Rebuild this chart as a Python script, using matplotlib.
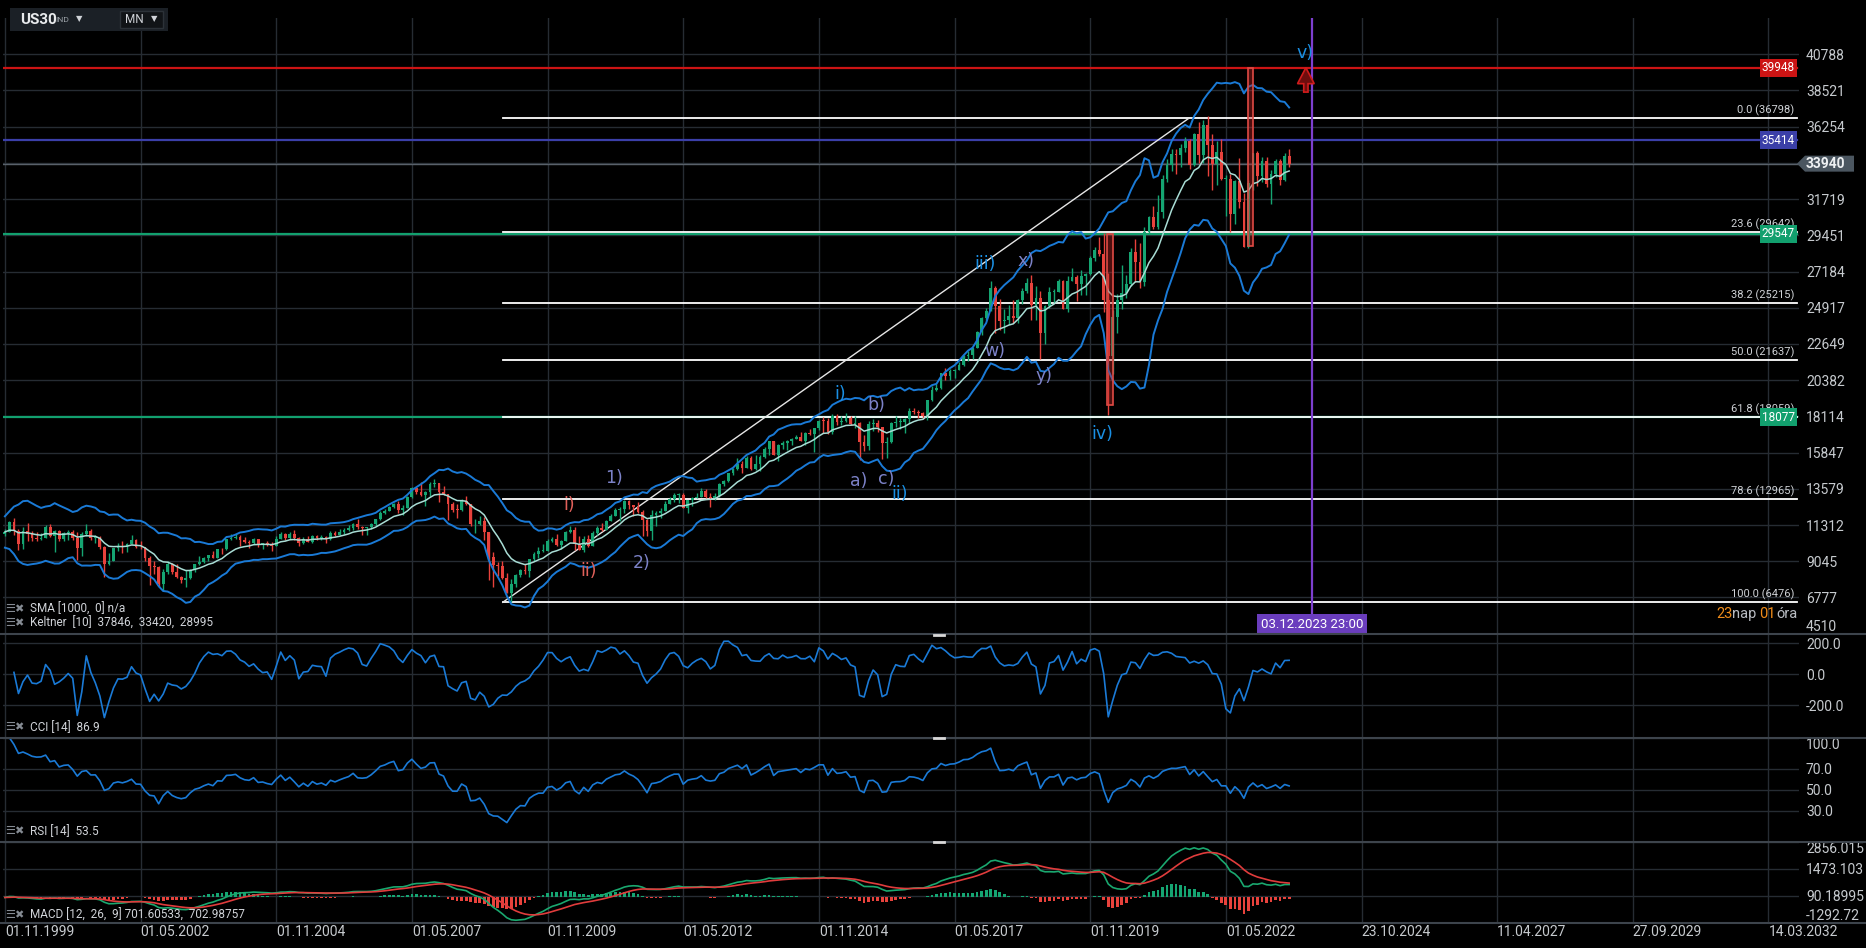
import numpy as np
import pandas as pd
import matplotlib
matplotlib.use("Agg")
import matplotlib.pyplot as plt
from matplotlib.patches import Rectangle, FancyArrow, Polygon
from matplotlib.lines import Line2D

NARROW = ['Liberation Sans Narrow', 'Roboto', 'DejaVu Sans']
plt.rcParams['font.family'] = NARROW

# US30 monthly candles, first bar Nov 1999 (index 0)
first_open = 10729
closes = [
    10878, 11497,
    10940, 10128, 10922, 10734, 10522, 10448, 10522, 11215, 10651, 10971, 10415, 10787,
    10887, 10495, 9879, 10735, 10912, 10502, 10523, 9950, 8848, 9075, 9852, 10021,
    9920, 10106, 10404, 9946, 9925, 9243, 8737, 8664, 7592, 8397, 8896, 8342,
    8054, 7891, 7992, 8480, 8850, 8985, 9234, 9416, 9275, 9801, 9782, 10454,
    10488, 10584, 10358, 10226, 10188, 10435, 10140, 10174, 10080, 10027, 10428, 10783,
    10490, 10766, 10504, 10193, 10467, 10275, 10641, 10482, 10569, 10440, 10806, 10718,
    10865, 10993, 11109, 11367, 11168, 11150, 11186, 11381, 11679, 12081, 12221, 12463,
    12622, 12268, 12354, 13063, 13628, 13409, 13212, 13358, 13896, 13930, 13372, 13265,
    12650, 12266, 12263, 12820, 12638, 11350, 11378, 11544, 10851, 9325, 8829, 8776,
    8001, 7063, 7609, 8168, 8500, 8447, 9172, 9496, 9712, 9713, 10345, 10428,
    10067, 10325, 10857, 11009, 10137, 9774, 10466, 10015, 10788, 11118, 11006, 11578,
    11892, 12226, 12320, 12811, 12570, 12414, 12143, 11614, 10913, 11955, 12046, 12218,
    12633, 12952, 13212, 13214, 12393, 12880, 13009, 13091, 13437, 13096, 13026, 13104,
    13861, 14054, 14579, 14840, 15116, 14910, 15500, 14810, 15130, 15546, 16086, 16577,
    15699, 16322, 16458, 16581, 16717, 16827, 16563, 17098, 17043, 17391, 17828, 17823,
    17165, 18133, 17776, 17841, 18011, 17620, 17690, 16528, 16285, 17664, 17720, 17425,
    16466, 16517, 17685, 17774, 17787, 17930, 18432, 18401, 18308, 18142, 19124, 19763,
    19864, 20812, 20663, 20941, 21009, 21350, 21891, 21948, 22405, 23377, 24272, 24719,
    26149, 25029, 24103, 24163, 24416, 24271, 25415, 25965, 26458, 25116, 25538, 23327,
    24999, 25916, 25929, 26593, 24815, 26600, 26864, 26403, 26917, 27046, 28051, 28538,
    28256, 25409, 21917, 24346, 25383, 25813, 26428, 28430, 27782, 26502, 29639, 30606,
    29983, 30932, 32982, 33875, 34529, 34503, 34935, 35361, 33844, 35820, 34484, 36338,
    35132, 33893, 34678, 32977, 32990, 30775, 32845, 31510, 28726, 32733, 34590, 33147,
    34086, 32657, 33274, 34098, 32908, 34407, 33940,
]
highs = [
    11089, 11568,
    11750, 11041, 11164, 11425, 10936, 10864, 10844, 11310, 11401, 10984, 11006, 10899,
    10983, 10983, 10858, 10863, 11350, 11070, 10668, 10610, 10030, 9546, 9900, 10220,
    10300, 10200, 10673, 10420, 10340, 9930, 9380, 9077, 8720, 8560, 9043, 8930,
    8870, 8110, 8520, 8560, 8900, 9350, 9330, 9430, 9690, 9840, 9870, 10460,
    10750, 10750, 10690, 10570, 10350, 10520, 10400, 10200, 10340, 10240, 10600, 10860,
    10800, 10850, 10980, 10560, 10560, 10650, 10720, 10720, 10700, 10610, 10940, 10960,
    11050, 11140, 11340, 11420, 11670, 11250, 11220, 11440, 11720, 12170, 12340, 12530,
    12680, 12790, 12550, 13120, 13690, 13700, 14020, 13460, 14000, 14198, 13950, 13780,
    13280, 12770, 12620, 12930, 13140, 12660, 11700, 11870, 11790, 10880, 9650, 9030,
    9090, 8300, 7930, 8260, 8590, 8880, 9200, 9630, 9920, 10120, 10470, 10580,
    10730, 10400, 10930, 11260, 11210, 10600, 10600, 10720, 10950, 11240, 11450, 11630,
    12020, 12390, 12420, 12880, 12880, 12570, 12750, 12280, 11720, 12280, 12200, 12360,
    12790, 13050, 13290, 13340, 13340, 12900, 13080, 13330, 13660, 13590, 13290, 13330,
    13970, 14150, 14590, 14890, 15540, 15340, 15640, 15660, 15710, 15720, 16170, 16590,
    16590, 16400, 16590, 16630, 16740, 16980, 17150, 17120, 17350, 17400, 17890, 18100,
    18000, 18290, 18290, 18110, 18350, 18120, 18140, 17750, 16930, 17800, 17980, 17900,
    17420, 16800, 17790, 18170, 18000, 18020, 18620, 18670, 18540, 18400, 19160, 19990,
    20130, 20860, 21170, 21070, 21110, 21530, 21930, 22180, 22420, 23490, 24330, 24880,
    26620, 26310, 25450, 24860, 25090, 25400, 25470, 26170, 26770, 26950, 26280, 25980,
    25070, 26240, 26110, 26700, 26670, 26910, 27400, 26980, 27310, 27120, 28180, 28700,
    29370, 29570, 27100, 24770, 25760, 27580, 26950, 28660, 29200, 28950, 29960, 30640,
    31270, 31960, 33260, 34260, 34830, 34850, 35170, 35630, 35510, 35890, 36560, 36680,
    36950, 35820, 35370, 35490, 33250, 33270, 32910, 34280, 32100, 32890, 34590, 34710,
    34340, 34330, 33570, 34260, 34260, 34590, 34850,
]
lows = [
    10598, 10999,
    10701, 9731, 9796, 10305, 10299, 10297, 10383, 10513, 10580, 9654, 10321, 10295,
    10390, 10394, 9106, 9389, 10630, 10375, 10175, 9830, 8062, 8823, 9040, 9710,
    9570, 9620, 10100, 9900, 9800, 9050, 7532, 8240, 7460, 7197, 8240, 8230,
    7990, 7670, 7416, 7940, 8360, 8840, 8940, 9080, 9250, 9370, 9500, 9730,
    10400, 10450, 9990, 10160, 9850, 10140, 9910, 9810, 10000, 9710, 10010, 10420,
    10360, 10460, 10400, 10010, 10100, 10250, 10220, 10390, 10370, 10160, 10400, 10650,
    10660, 10760, 10920, 11000, 11060, 10700, 10680, 11040, 11270, 11650, 11990, 12170,
    12370, 12050, 11940, 12350, 13000, 13240, 13150, 12520, 13120, 13680, 12740, 13170,
    11630, 12120, 11730, 12200, 12560, 11280, 10830, 11290, 10370, 7880, 7450, 8120,
    7910, 7030, 6470, 7440, 8090, 8220, 8090, 9080, 9250, 9640, 9680, 10240,
    10030, 9840, 10300, 10830, 9770, 9740, 9610, 9940, 10010, 10710, 10930, 11000,
    11560, 11860, 11550, 12090, 12330, 11860, 12090, 10600, 10600, 10400, 11230, 11740,
    12210, 12620, 12770, 12710, 12390, 12040, 12490, 12980, 13050, 13030, 12470, 12880,
    13100, 13780, 14000, 14450, 14750, 14550, 14900, 14760, 14760, 14720, 15490, 15700,
    15690, 15340, 16080, 16020, 16350, 16690, 16560, 16330, 16940, 15860, 17280, 17070,
    17040, 17040, 17600, 17580, 17790, 17600, 17400, 15370, 15940, 16010, 17210, 17140,
    15450, 15500, 16450, 17480, 17330, 17060, 17710, 18250, 18000, 17960, 17880, 19100,
    19680, 19830, 20410, 20380, 20550, 20990, 21280, 21600, 21710, 22420, 23240, 24140,
    24720, 23360, 23510, 23340, 23880, 23990, 23990, 25150, 25860, 24120, 24120, 21710,
    22640, 24880, 25210, 25980, 24810, 24680, 26570, 25340, 25740, 25740, 27000, 27840,
    28170, 24680, 18213, 20740, 23360, 24840, 25520, 26290, 26540, 26140, 26280, 29600,
    29860, 29860, 30550, 32790, 33470, 33270, 33740, 34650, 33610, 33790, 34010, 34010,
    33150, 32270, 32580, 32910, 30640, 29650, 30140, 31160, 28720, 28660, 32310, 32570,
    32810, 32500, 31430, 33090, 32590, 32840, 33700,
]

x_ticks = [0, 30, 60, 90, 120, 150, 180, 210, 240, 270, 300, 330, 360, 390]
x_labels = ["01.11.1999", "01.05.2002", "01.11.2004", "01.05.2007", "01.11.2009",
            "01.05.2012", "01.11.2014", "01.05.2017", "01.11.2019", "01.05.2022",
            "23.10.2024", "11.04.2027", "27.09.2029", "14.03.2032"]
price_ticks = [4510, 6777, 9045, 11312, 13579, 15847, 18114, 20382, 22649,
               24917, 27184, 29451, 31719, 33986, 36254, 38521, 40788]
cci_ticks = [200, 0, -200]
rsi_ticks = [30, 50, 70]
macd_ticks = [-1292.72, 90.18995, 1473.103, 2856.015]

fib_high, fib_low = 36798, 6476
fib_ratios = [0.0, 23.6, 38.2, 50.0, 61.8, 78.6, 100.0]
fib_start = 110.1
trend_line = [(110.1, 6476), (261.9, 36798)]
level_values = [39948, 35414, 29547, 18077]
level_colors = ['#cc1414', '#3b3fa8', '#12a06e', '#12a06e']
last_price = 33940
marker_date = 289.05
boxes = [(243.8, 245.1, 18818, 29547), (274.9, 276.1, 28766, 39948)]
waves = [
    ("1)", 134.7, 14243, '#7c82c8'), ("2)", 140.8, 8930, '#7c82c8'),
    ("i)", 124.8, 12586, '#e0605a'), ("ii)", 129.0, 8423, '#e0605a'),
    ("i)", 184.8, 19531, '#1a8fe3'), ("b)", 192.8, 18817, '#7c82c8'),
    ("a)", 188.7, 14042, '#7c82c8'), ("c)", 194.8, 14167, '#7c82c8'),
    ("ii)", 197.9, 13273, '#1a8fe3'), ("iii)", 216.8, 27631, '#1a8fe3'),
    ("x)", 225.9, 27837, '#7c82c8'), ("w)", 218.9, 22217, '#7c82c8'),
    ("y)", 229.8, 20633, '#7c82c8'), ("iv)", 242.7, 17027, '#1a8fe3'),
    ("v)", 287.5, 40870, '#1a8fe3'),
]

# ---- prepare series
n = min(len(closes), len(highs), len(lows))
c = np.array(closes[:n], float)
o = np.r_[first_open, c[:-1]]
h = np.maximum(np.array(highs[:n], float), np.maximum(o, c))
l = np.minimum(np.array(lows[:n], float), np.minimum(o, c))
idx = np.arange(n)

cs = pd.Series(c)
hs, ls = pd.Series(h), pd.Series(l)
prev = cs.shift(1).fillna(first_open)
tr = pd.concat([hs - ls, (hs - prev).abs(), (ls - prev).abs()], axis=1).max(axis=1)
kc_mid = cs.ewm(span=10, adjust=False).mean()
atr = tr.rolling(10, min_periods=1).mean()
kc_up, kc_dn = kc_mid + 2 * atr, kc_mid - 2 * atr

tp = (hs + ls + cs) / 3
tp_sma = tp.rolling(14, min_periods=3).mean()
tp_md = tp.rolling(14, min_periods=3).apply(lambda a: np.abs(a - a.mean()).mean(), raw=True)
cci = (tp - tp_sma) / (0.015 * tp_md)

delta = cs.diff()
gain = delta.clip(lower=0).ewm(alpha=1 / 14, adjust=False).mean()
loss = (-delta.clip(upper=0)).ewm(alpha=1 / 14, adjust=False).mean()
rsi = 100 - 100 / (1 + gain / loss)

macd = cs.ewm(span=12, adjust=False).mean() - cs.ewm(span=26, adjust=False).mean()
signal = macd.ewm(span=9, adjust=False).mean()
hist = macd - signal

# ---- layout (pixels)
W, H = 1866, 948
L_PX, R_PX = 3, 1799
X0_PX, BAR_PX = 4.9, 4.522


def px_idx(px):
    return (px - X0_PX) / BAR_PX


XLIM = (px_idx(L_PX), px_idx(R_PX))
BG = '#000000'
GRID = '#262c33'
SEP = '#3d444c'
TXT = '#c6cace'
GREEN = '#15a572'
RED = '#e8423c'
BLUE = '#1a7ad6'

fig = plt.figure(figsize=(W / 100, H / 100), dpi=100, facecolor=BG)


def panel(top, bottom):
    ax = fig.add_axes([L_PX / W, 1 - bottom / H, (R_PX - L_PX) / W, (bottom - top) / H])
    ax.set_facecolor(BG)
    for s in ax.spines.values():
        s.set_visible(False)
    ax.set_xlim(XLIM)
    ax.set_xticks(x_ticks)
    ax.grid(True, color=GRID, lw=1)
    ax.set_axisbelow(True)
    ax.yaxis.tick_right()
    ax.tick_params(axis='both', length=0, labelcolor=TXT, labelsize=10)
    ax.tick_params(axis='y', pad=5)
    ax.tick_params(axis='x', labelbottom=False)
    return ax


ax = panel(18.4, 633.7)
ax_cci = panel(634, 737.7)
ax_rsi = panel(737.7, 841.7)
ax_macd = panel(841.7, 922.7)

# ---- main panel
ax.set_ylim(4510, 43035)
ax.set_yticks(price_ticks, ["" if v == 33986 else str(v) for v in price_ticks])
ax.get_yticklabels()[0].set_va('bottom')

fib_end = px_idx(1797)
for v, col in zip(level_values, level_colors):
    ax.plot([XLIM[0], fib_end], [v, v], color=col, lw=1.6, zorder=2)
ax.axhline(last_price, color='#59616a', lw=1, zorder=2)

for r in fib_ratios:
    lv = fib_high - r / 100 * (fib_high - fib_low)
    ax.plot([fib_start, fib_end], [lv, lv], color='white', lw=1.3, zorder=2)
    ax.annotate(f"{r:.1f} ({lv:.0f})", xy=(fib_end, lv), xytext=(-3, 2),
                textcoords='offset pixels', ha='right', va='bottom', fontsize=8, color='#cfd2d6')
(tx0, ty0), (tx1, ty1) = trend_line
ax.plot([tx0, tx1], [ty0, ty1], color='#e6e6e6', lw=1, zorder=2)

ax.plot(idx, kc_up, color=BLUE, lw=1.4, zorder=4)
ax.plot(idx, kc_dn, color=BLUE, lw=1.4, zorder=4)
ax.plot(idx, kc_mid, color='#a9ddd5', lw=1.1, zorder=4)

cols = np.where(c >= o, GREEN, RED)
ax.vlines(idx, l, h, colors=cols, lw=1, zorder=3)
ax.bar(idx, np.maximum(np.abs(c - o), 40), bottom=np.minimum(o, c), width=0.62,
       color=cols, lw=0, zorder=3)

for x0, x1, y0, y1 in boxes:
    ax.add_patch(Rectangle((x0, y0), x1 - x0, y1 - y0, fc=(0.78, 0.16, 0.16, 0.38),
                           ec='#e04a44', lw=1.2, zorder=5))

ax.axvline(marker_date, color='#7d3fcf', lw=1.6, zorder=5)
ax.annotate("03.12.2023 23:00", xy=(marker_date, 4510), xytext=(0, 3), textcoords='offset pixels',
            ha='center', va='bottom', fontsize=9.5, color='white', zorder=6,
            bbox=dict(boxstyle='square,pad=0.3', fc='#6a3dbd', ec='none'))
ax.add_patch(FancyArrow(287.7, 38420, 0, 1528, width=0.95, head_width=3.7, head_length=1000,
                        length_includes_head=True, fc='#6e0d0d', ec='#d01c1c', lw=1.2, zorder=6))

for s, xi, yv, col in waves:
    ax.text(xi, yv, s, color=col, fontsize=12.5, ha='center', va='center',
            family='DejaVu Sans', zorder=7)

for v, col in zip(level_values, level_colors):
    ax.annotate(str(v), xy=(1, v), xycoords=('axes fraction', 'data'), xytext=(-4, 0),
                textcoords='offset pixels', ha='right', va='center', fontsize=8.5, color='white',
                zorder=8, bbox=dict(boxstyle='square,pad=0.2', fc=col, ec='none'))

# ---- indicators
ax_cci.set_ylim(-409, 260)
ax_cci.set_yticks(cci_ticks, [f"{v:.1f}" for v in cci_ticks])
ax_cci.plot(idx, cci, color=BLUE, lw=1.2)

ax_rsi.set_ylim(0, 100)
ax_rsi.set_yticks(rsi_ticks + [100], [f"{v:.1f}" for v in rsi_ticks + [100]])
ax_rsi.get_yticklabels()[-1].set_va('top')
ax_rsi.plot(idx, rsi, color=BLUE, lw=1.2)

ax_macd.set_ylim(macd_ticks[0], macd_ticks[-1])
ax_macd.set_yticks(macd_ticks, ["-1292.72", "90.18995", "1473.103", "2856.015"])
ax_macd.get_yticklabels()[0].set_va('bottom')
ax_macd.get_yticklabels()[-1].set_va('top')
ax_macd.bar(idx, hist, width=0.6, color=np.where(hist >= 0, GREEN, RED), lw=0)
ax_macd.plot(idx, macd, color='#1aa86f', lw=1.2)
ax_macd.plot(idx, signal, color='#e03c3c', lw=1.2)
ax_macd.set_xticks(x_ticks, x_labels)
ax_macd.tick_params(axis='x', labelbottom=True, pad=2)
for t in ax_macd.get_xticklabels():
    t.set_ha('left')

# ---- frame decorations (pixels)
def fy(y):
    return 1 - y / H


for y in [633.9, 737.7, 841.7, 922.7]:
    fig.add_artist(Line2D([0, 1], [fy(y), fy(y)], transform=fig.transFigure, color=SEP, lw=1.5))
for y in [634.5, 738.2, 842.2]:
    fig.add_artist(Line2D([934 / W, 944 / W], [fy(y), fy(y)], transform=fig.transFigure,
                          color='#d8d8d8', lw=2))

legend = [(609.4, "SMA [1000,  0] n/a"), (623.3, "Keltner  [10]  37846,  33420,  28995"),
          (727.3, "CCI [14]  86.9"), (831.3, "RSI [14]  53.5"),
          (915.3, "MACD [12,  26,  9] 701.60533,  702.98757")]
for y, s in legend:
    fig.text(5 / W, fy(y), "☰✖", color='#858b93', fontsize=8, va='center', family='DejaVu Sans')
    fig.text(30 / W, fy(y), s, color='#d0d3d8', fontsize=8.5, va='center')

# current price tag
yc = fig.transFigure.inverted().transform(ax.transData.transform((0, last_price)))[1]
hh = 8 / H
fig.add_artist(Polygon([(1797 / W, yc), (1805 / W, yc + hh), (1854 / W, yc + hh),
                        (1854 / W, yc - hh), (1805 / W, yc - hh)], closed=True,
                       transform=fig.transFigure, fc='#4b5660', ec='none'))
fig.text(1806 / W, yc, str(last_price), color='#eef0f2', fontsize=10, fontweight='bold', va='center')

# countdown
renderer = fig.canvas.get_renderer()
x = 1716
for s, col in [("23", '#f08c1a'), ("nap", '#b8bcc2'), ("01", '#f08c1a'), ("óra", '#b8bcc2')]:
    t = fig.text(x / W, fy(614), s, color=col, fontsize=10.5, va='center', ha='left')
    x += t.get_window_extent(renderer).width + (3 if s == "nap" else 0)

# header box
fig.add_artist(Rectangle((10 / W, fy(31)), 158 / W, 23 / H, transform=fig.transFigure,
                         fc='#1b2026', ec='none'))
fig.add_artist(Rectangle((120 / W, fy(28)), 43 / W, 17 / H, transform=fig.transFigure,
                         fc='#111417', ec='#2c3238', lw=1))
fig.text(20 / W, fy(19.5), "US30", color='#e8eaec', fontsize=11, fontweight='bold', va='center')
fig.text(55 / W, fy(20.5), "IND", color='#9aa0a6', fontsize=6, va='center')
fig.text(76 / W, fy(19), "▼", color='#d0d3d8', fontsize=6, va='center', family='DejaVu Sans')
fig.text(125 / W, fy(19.5), "MN", color='#d0d3d8', fontsize=8.5, va='center')
fig.text(151 / W, fy(19), "▼", color='#d0d3d8', fontsize=6, va='center', family='DejaVu Sans')

fig.savefig("out.png", dpi=100, facecolor=BG)
